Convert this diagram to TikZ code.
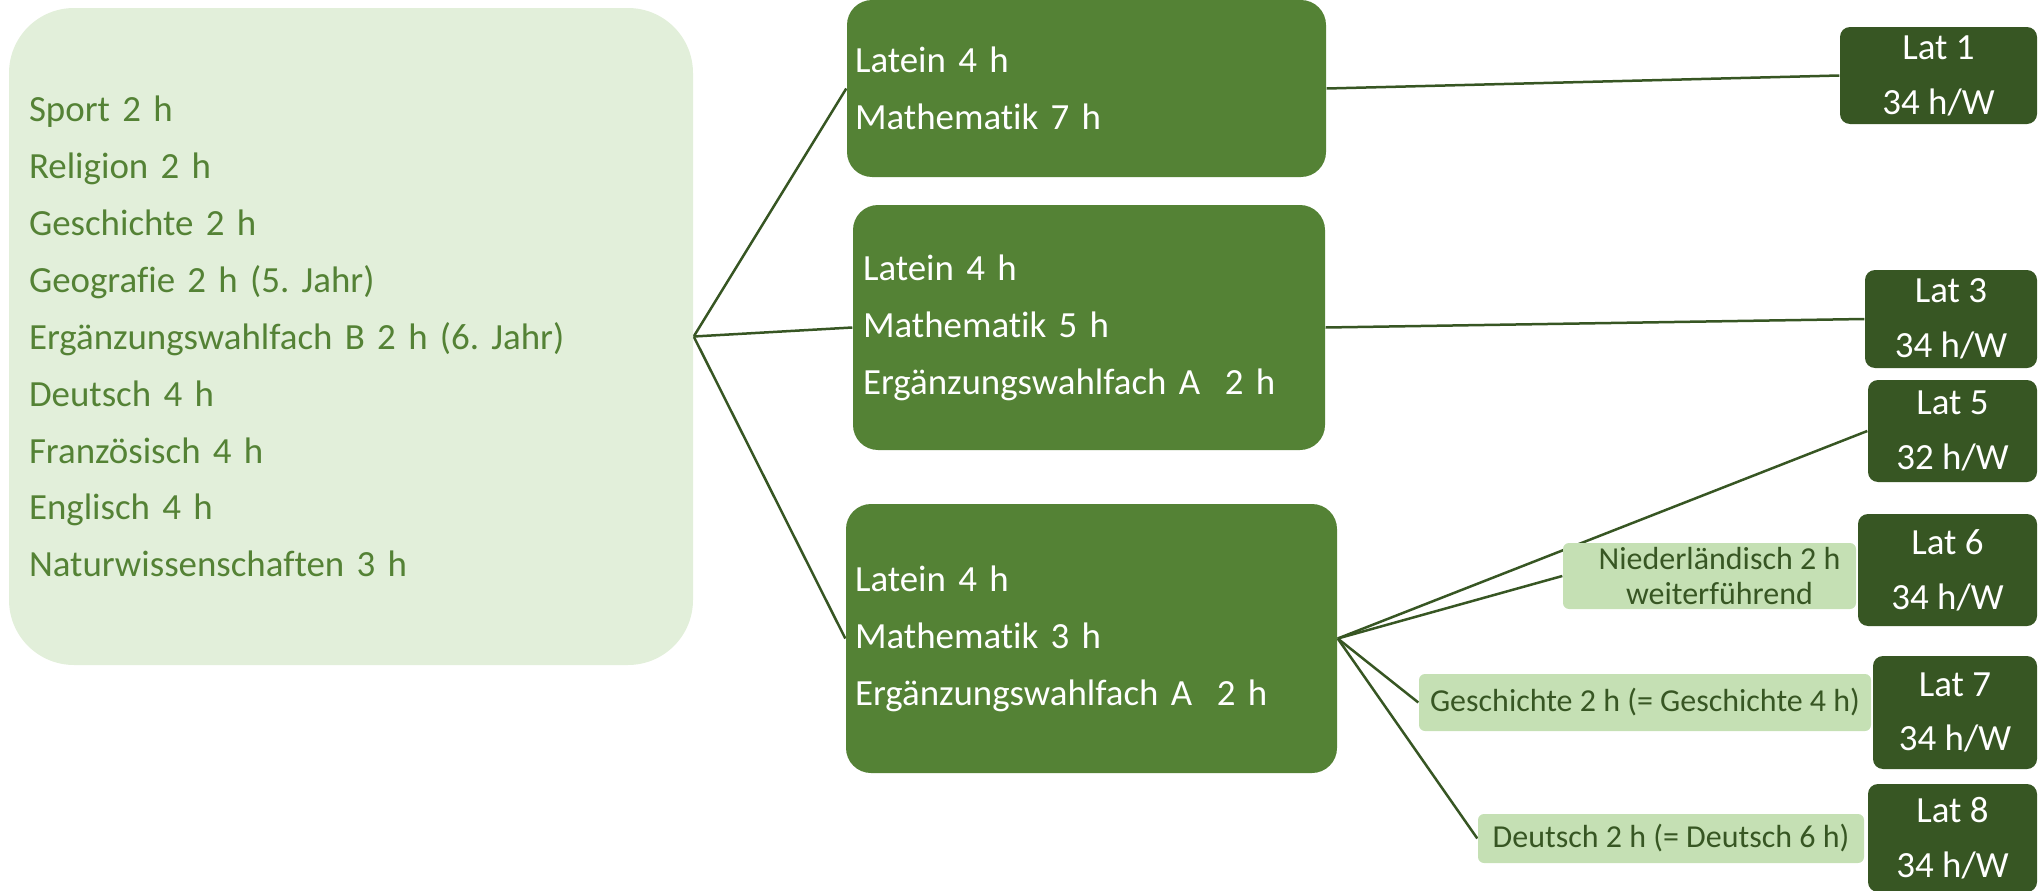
\documentclass[tikz,border=0pt]{standalone}
\usepackage{fontspec}
\setmainfont{Carlito}[Ligatures={NoCommon}]
\frenchspacing
\usetikzlibrary{backgrounds}

\definecolor{hellgruen}{HTML}{E2EFDA}
\definecolor{mittelgruen}{HTML}{548235}
\definecolor{dunkelgruen}{HTML}{375623}
\definecolor{zusatzgruen}{HTML}{C5E0B4}

\tikzset{
    pflichtbox/.style={fill=hellgruen, text=mittelgruen, rounded corners=6.5mm,
        align=left, inner xsep=2mm, font=\fontsize{10.5}{16.2}\selectfont},
    zweigbox/.style={fill=mittelgruen, text=white, rounded corners=2.5mm,
        align=left, font=\fontsize{10.5}{16.2}\selectfont},
    latbox/.style={fill=dunkelgruen, text=white, rounded corners=1mm,
        align=center, inner sep=0pt, font=\fontsize{10.5}{15.6}\selectfont},
    zusatzbox/.style={fill=zusatzgruen, text=dunkelgruen, rounded corners=0.6mm,
        align=center, inner sep=0pt, font=\fontsize{9.1}{10}\selectfont},
    linie/.style={draw=dunkelgruen, line width=0.25mm}
}

\begin{document}
\begin{tikzpicture}[x=0.1mm, y=-0.1mm]

    % 画布
    \useasboundingbox (0,0) rectangle (2038,891);

    % 左侧：共同科目
    \node[pflichtbox, minimum height=65.7mm, text width=64.4mm] (pflicht) at (351,336.5)
        {Sport 2 h\\Religion 2 h\\Geschichte 2 h\\Geografie 2 h (5. Jahr)\\
         Ergänzungswahlfach B 2 h (6. Jahr)\\Deutsch 4 h\\Französisch 4 h\\
         Englisch 4 h\\Naturwissenschaften 3 h};

    % 中间：三个分支
    \node[zweigbox, minimum height=17.7mm, inner xsep=0.8mm, text width=46.3mm] (zweigA) at (1086.5,88.5)
        {Latein 4 h\\Mathematik 7 h};
    \node[zweigbox, minimum height=24.5mm, inner xsep=1mm, text width=45.2mm] (zweigB) at (1089,327.5)
        {Latein 4 h\\Mathematik 5 h\\Ergänzungswahlfach A\ \ 2 h};
    \node[zweigbox, minimum height=26.9mm, inner xsep=0.9mm, text width=47.3mm] (zweigC) at (1091.5,638.5)
        {Latein 4 h\\Mathematik 3 h\\Ergänzungswahlfach A\ \ 2 h};

    % 右侧：结果
    \node[latbox, minimum width=19.7mm, minimum height=9.7mm] (lat1) at (1938.5,75.5) {Lat 1\\34 h/W};
    \node[latbox, minimum width=17.2mm, minimum height=9.8mm] (lat3) at (1951,319) {Lat 3\\34 h/W};
    \node[latbox, minimum width=16.9mm, minimum height=10.2mm] (lat5) at (1952.5,431) {Lat 5\\32 h/W};
    \node[latbox, minimum width=17.9mm, minimum height=11.2mm] (lat6) at (1947.5,570) {Lat 6\\34 h/W};
    \node[latbox, minimum width=16.4mm, minimum height=11.3mm] (lat7) at (1955,712.5) {Lat 7\\34 h/W};
    \node[latbox, minimum width=16.9mm, minimum height=10.8mm] (lat8) at (1952.5,838) {Lat 8\\34 h/W};

    % 附加科目
    \node[zusatzbox, minimum width=29.3mm, minimum height=6.6mm] (nieder) at (1709.5,576)
        {\hspace*{2mm}Niederländisch 2 h\\\hspace*{2mm}weiterführend};
    \node[zusatzbox, minimum width=45.2mm, minimum height=5.7mm] (gesch) at (1645,702.5)
        {Geschichte 2 h (= Geschichte 4 h)};
    \node[zusatzbox, minimum width=38.6mm, minimum height=4.9mm] (deutsch) at (1671,838.5)
        {Deutsch 2 h (= Deutsch 6 h)};

    % 连线
    \begin{pgfonlayer}{background}
        \draw[linie] (pflicht.east) -- (zweigA.west);
        \draw[linie] (pflicht.east) -- (zweigB.west);
        \draw[linie] (pflicht.east) -- (zweigC.west);
        \draw[linie] (zweigA.east) -- (lat1.west);
        \draw[linie] (zweigB.east) -- (lat3.west);
        \draw[linie] (zweigC.east) -- (lat5.west);
        \draw[linie] (zweigC.east) -- (nieder.west);
        \draw[linie] (zweigC.east) -- (gesch.west);
        \draw[linie] (zweigC.east) -- (deutsch.west);
    \end{pgfonlayer}

\end{tikzpicture}
\end{document}
